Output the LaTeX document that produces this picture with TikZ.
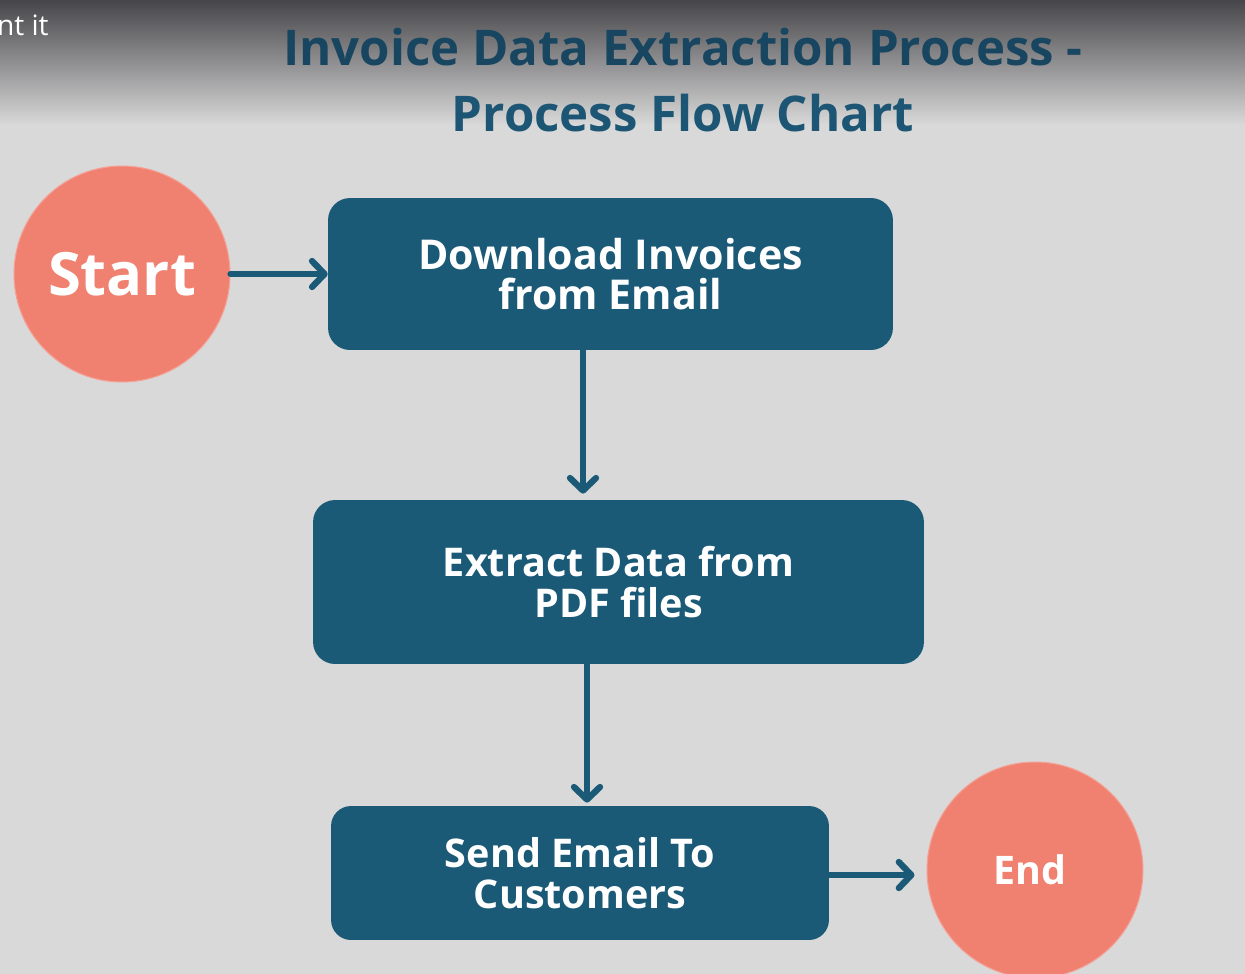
\documentclass[tikz,border=0pt]{standalone}
\usepackage{fontspec}
\setmainfont{Open Sans}
\usetikzlibrary{arrows.meta,positioning}
\definecolor{boxteal}{RGB}{27,90,119}
\definecolor{salmon}{RGB}{240,128,112}
\definecolor{paper}{RGB}{217,217,217}
\definecolor{shadowgray}{RGB}{70,70,74}
\definecolor{titleteal}{RGB}{28,86,116}
\definecolor{titledark}{RGB}{24,70,96}
\tikzset{
  terminal/.style={circle,fill=salmon,draw=salmon!75!white,line width=0.6pt,text=white,inner sep=0pt,minimum size=4.32cm},
  stepbox/.style={rectangle,rounded corners=0.44cm,fill=boxteal,text=white,align=center,font=\bfseries\fontsize{22.5}{23.2}\selectfont},
  flow/.style={-{Straight Barb[length=2.5mm,width=5.2mm,round]},line width=3.6pt,draw=boxteal,line cap=round},
  heading/.style={anchor=base,font=\bfseries\fontsize{28}{28}\selectfont}
}

\begin{document}
\begin{tikzpicture}[x=0.02cm,y=-0.02cm]
  \useasboundingbox (0,0) rectangle (1245,974);
  \clip (0,0) rectangle (1245,974);
  \fill[paper] (0,0) rectangle (1245,974);
  \shade[top color=shadowgray,bottom color=paper] (0,0) rectangle (1245,125);

  % title
  \node[heading,text=titledark] (title) at (683,65) {Invoice Data Extraction Process -};
  \node[heading,text=titleteal] (subtitle) at (683,131) {Process Flow Chart};
  \node[anchor=base east,inner sep=0pt,text=white,font=\fontsize{16}{16}\selectfont] (cut) at (49,35) {nt it};

  % flow
  \node[terminal,font=\bfseries\fontsize{34}{34}\selectfont] (start) at (122,274) {Start};
  \node[stepbox,font=\bfseries\fontsize{23.4}{23.2}\selectfont,minimum width=11.3cm,minimum height=3.04cm] (download) at (610.5,274) {Download Invoices\\from Email};
  \node[stepbox,minimum width=12.22cm,minimum height=3.28cm] (extract) at (618.5,582) {Extract Data from\\PDF files};
  \node[stepbox,minimum width=9.96cm,minimum height=2.68cm,rounded corners=0.4cm] (send) at (580,873) {Send Email To\\Customers};
  \node[terminal,font=\bfseries\fontsize{22.4}{22.4}\selectfont] (stop) at (1035,870) {\raisebox{-0.12cm}{\hspace*{-0.2cm}End}};

  \draw[flow] (start.east) -- (download.west);
  \draw[flow,shorten >=0.12cm] ([xshift=-0.55cm]download.south) -- ([xshift=-0.55cm]download.south |- extract.north);
  \draw[flow,shorten >=0.06cm] ([xshift=-0.63cm]extract.south) -- ([xshift=-0.63cm]extract.south |- send.north);
  \draw[flow,shorten >=0.24cm] ([yshift=-0.04cm]send.east) -- ([yshift=-0.04cm]send.east -| stop.west);
\end{tikzpicture}
\end{document}
